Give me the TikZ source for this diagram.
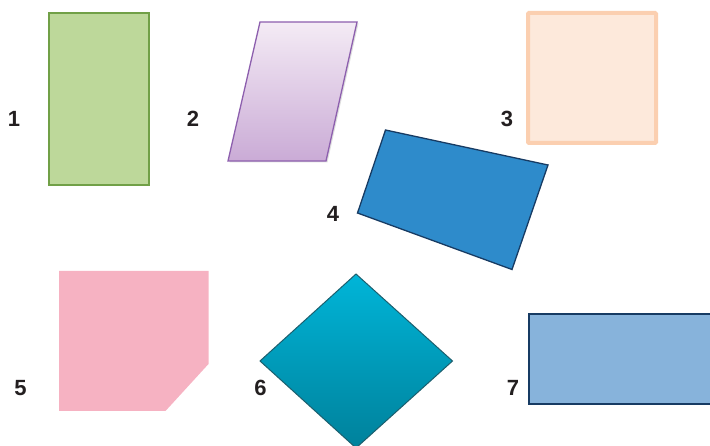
\documentclass[tikz,border=0pt]{standalone}
\usepackage{fontspec}
\setmainfont{Liberation Sans}
\usepackage{xcolor}
\usetikzlibrary{shadows}
\definecolor{leafgreen}{HTML}{BDD89A}
\definecolor{leafedge}{HTML}{71A047}
\definecolor{lilactop}{HTML}{F4EBF5}
\definecolor{lilacbot}{HTML}{CAABD6}
\definecolor{lilacedge}{HTML}{8D5FAE}
\definecolor{peach}{HTML}{FDE9DB}
\definecolor{peachedge}{HTML}{FBCFB0}
\definecolor{oceanblue}{HTML}{2E8BCB}
\definecolor{navyedge}{HTML}{173B63}
\definecolor{rosepink}{HTML}{F6B2C2}
\definecolor{tealtop}{HTML}{00B5D8}
\definecolor{tealbot}{HTML}{00819B}
\definecolor{tealedge}{HTML}{1C5F6E}
\definecolor{skyblue}{HTML}{87B3DB}
\definecolor{inkdark}{HTML}{231F20}
\tikzset{numlabel/.style={font=\bfseries\fontsize{22}{22}\selectfont,text=inkdark,inner sep=0pt}}

\begin{document}
\begin{tikzpicture}[x=1pt,y=-1pt]
    \useasboundingbox (0,0) rectangle (710,446);
    \clip (0,0) rectangle (710,446);

    % draw the shapes
    \draw[fill=leafgreen,draw=leafedge,line width=1.5pt] (49,13) rectangle (149,185);
    \draw[top color=lilactop,bottom color=lilacbot,draw=lilacedge,line width=1.3pt,
          drop shadow={shadow xshift=1.5pt,shadow yshift=-1.5pt,opacity=0.25}]
        (260,22) -- (357,22) -- (326,161) -- (228,161) -- cycle;
    \draw[fill=peach,draw=peachedge,line width=4pt,rounded corners=1pt] (528,13) rectangle (656,143);
    \draw[fill=oceanblue,draw=navyedge,line width=1.3pt]
        (385.5,130) -- (548,165) -- (512,269.5) -- (357.5,213) -- cycle;
    \fill[rosepink] (59,271) -- (208.5,271) -- (208.5,364) -- (165.5,411) -- (59,411) -- cycle;
    \draw[top color=tealtop,bottom color=tealbot,draw=tealedge,line width=1pt]
        (356,274) -- (452.5,361) -- (356,448) -- (260,361) -- cycle;
    \draw[fill=skyblue,draw=navyedge,line width=2pt] (528.5,314) rectangle (714,404.5);

    % label the shapes
    \node[numlabel] (n1) at (14,119) {1};
    \node[numlabel] (n2) at (193,119) {2};
    \node[numlabel] (n3) at (507,119) {3};
    \node[numlabel] (n4) at (333,214) {4};
    \node[numlabel] (n5) at (20.5,388) {5};
    \node[numlabel] (n6) at (260.5,388) {6};
    \node[numlabel] (n7) at (513,388) {7};
\end{tikzpicture}
\end{document}
